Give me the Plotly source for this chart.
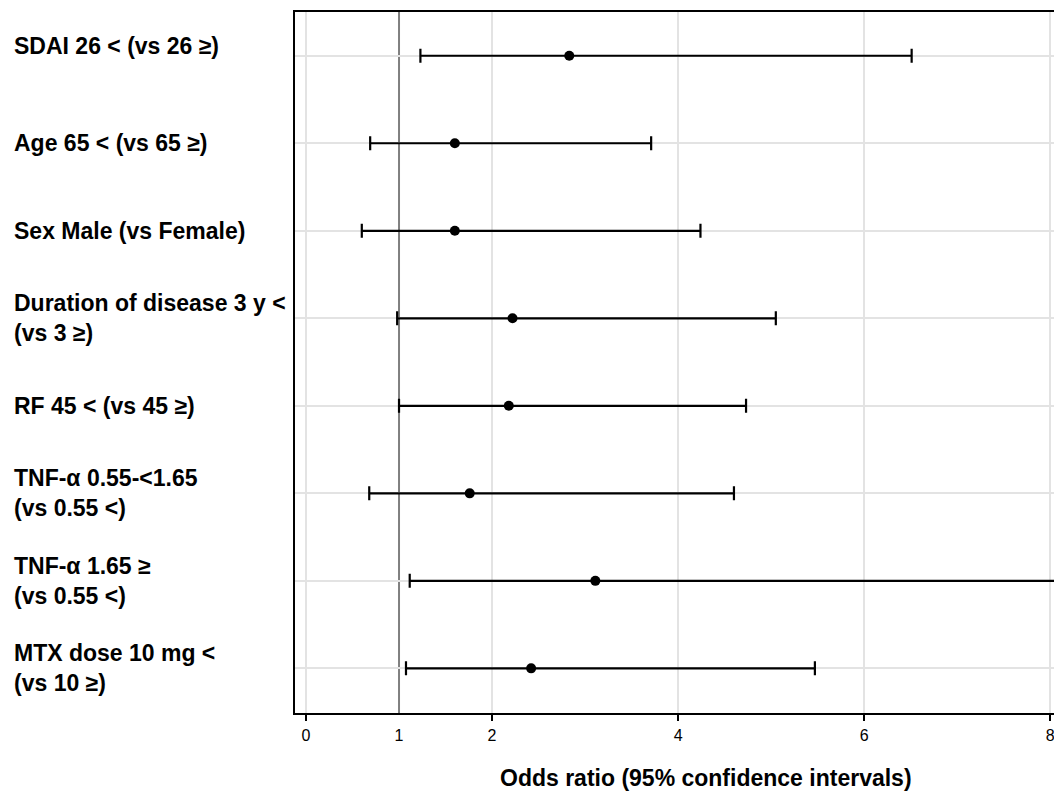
import plotly.graph_objects as go

# ---- data ----
labels = [
    "SDAI 26 < (vs 26 ≥)",
    "Age 65 < (vs 65 ≥)",
    "Sex Male (vs Female)",
    "Duration of disease 3 y <<br>(vs 3 ≥)",
    "RF 45 < (vs 45 ≥)",
    "TNF-α 0.55-<1.65<br>(vs 0.55 <)",
    "TNF-α 1.65 ≥<br>(vs 0.55 <)",
    "MTX dose 10 mg <<br>(vs 10 ≥)",
]
odds_ratio = [2.83, 1.60, 1.60, 2.22, 2.18, 1.76, 3.11, 2.42]
ci_lower = [1.23, 0.69, 0.60, 0.98, 1.00, 0.68, 1.115, 1.075]
ci_upper = [6.51, 3.71, 4.24, 5.05, 4.73, 4.60, 9.30, 5.47]
x_tick_vals = [0, 1, 2, 4, 6, 8]
x_tick_text = ["0", "1", "2", "4", "6", "8"]
x_grid_vals = [0, 2, 4, 6, 8]
reference_or = 1
x_title = "Odds ratio (95% confidence intervals)"

rows = list(range(1, len(labels) + 1))
err_plus = [u - o for u, o in zip(ci_upper, odds_ratio)]
err_minus = [o - l for o, l in zip(odds_ratio, ci_lower)]

fig = go.Figure()
fig.add_trace(go.Scatter(
    x=odds_ratio, y=rows, mode="markers",
    marker=dict(color="black", size=10),
    error_x=dict(type="data", symmetric=False, array=err_plus, arrayminus=err_minus,
                 color="black", thickness=2.2, width=7),
    showlegend=False, hoverinfo="skip",
))

# reference line at OR = 1
fig.add_shape(type="line", xref="x", yref="paper", x0=reference_or, x1=reference_or,
              y0=0, y1=1, line=dict(color="#808080", width=2), layer="below")

FONT = "Liberation Sans, Arial, sans-serif"

annotations = []
for i, (lab, r) in enumerate(zip(labels, rows)):
    annotations.append(dict(
        text="<b>" + lab + "</b>", xref="paper", yref="y", x=-0.3729, y=r,
        xanchor="left", yanchor="middle", align="left", showarrow=False,
        yshift=10 if i == 0 else 0,
        font=dict(family=FONT, size=23, color="black"),
    ))
annotations.append(dict(
    text="<b>" + x_title + "</b>", xref="paper", yref="paper", x=0.5415, y=-0.093,
    xanchor="center", yanchor="middle", showarrow=False,
    font=dict(family=FONT, size=23, color="black"),
))

fig.update_layout(
    width=1054, height=791,
    margin=dict(l=295, r=0, t=12, b=78),
    paper_bgcolor="white", plot_bgcolor="white",
    annotations=annotations,
    font=dict(family=FONT, color="black"),
    xaxis=dict(
        range=[-0.118, 8.04], tickmode="array", tickvals=x_tick_vals, ticktext=x_tick_text,
        ticks="", showgrid=False, zeroline=False,
        showline=True, linecolor="black", linewidth=2, mirror=True,
        tickfont=dict(family=FONT, size=16, color="black"),
        ticklabelstandoff=7, ticklabeloverflow="allow",
        minor=dict(tickmode="array", tickvals=x_grid_vals, ticks="outside", ticklen=6,
                   tickwidth=2, tickcolor="black", showgrid=True,
                   gridcolor="#e3e3e3", gridwidth=2),
    ),
    yaxis=dict(
        range=[8.51, 0.5], tickmode="array", tickvals=rows, showticklabels=False,
        ticks="", showgrid=True, gridcolor="#e3e3e3", gridwidth=2, zeroline=False,
        showline=True, linecolor="black", linewidth=2, mirror=False,
    ),
)

fig.write_html("out.html")
